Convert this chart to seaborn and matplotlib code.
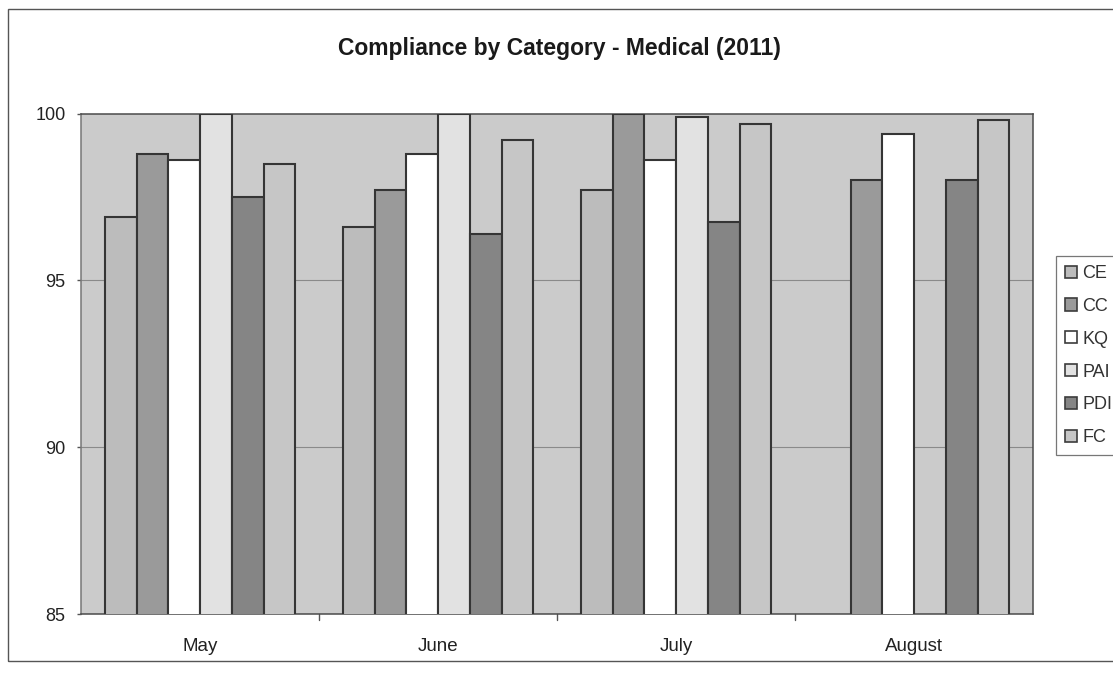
import numpy as np
import pandas as pd
import matplotlib
matplotlib.use("Agg")
import matplotlib.pyplot as plt
from matplotlib.patches import Rectangle, Patch
import seaborn as sns

months = ["May", "June", "July", "August"]
categories = ["CE", "CC", "KQ", "PAI", "PDI", "FC"]
ce = [96.9, 96.6, 97.7, np.nan]
cc = [98.8, 97.7, 100.0, 98.0]
kq = [98.6, 98.8, 98.6, 99.4]
pai = [100.0, 100.0, 99.9, np.nan]
pdi = [97.5, 96.4, 96.75, 98.0]
fc = [98.5, 99.2, 99.7, 99.8]
y_ticks = [85, 90, 95, 100]

colors = ["#bcbcbc", "#9a9a9a", "#ffffff", "#e2e2e2", "#858585", "#c6c6c6"]

series = {"CE": ce, "CC": cc, "KQ": kq, "PAI": pai, "PDI": pdi, "FC": fc}
rows = []
for cat in categories:
    for m, v in zip(months, series[cat]):
        rows.append({"Month": m, "Category": cat, "Value": v})
df = pd.DataFrame(rows)

sns.set_theme(style="white")
plt.rcParams["font.family"] = ["Liberation Sans", "DejaVu Sans"]

fig = plt.figure(figsize=(11.13, 6.77), dpi=100)
ax = fig.add_axes([0.0728, 0.093, 0.8554, 0.7393])
ax.set_facecolor("#cbcbcb")

sns.barplot(data=df, x="Month", y="Value", hue="Category", order=months,
            hue_order=categories, palette=colors, width=0.8,
            edgecolor="#353535", linewidth=1.5, ax=ax, legend=False,
            errorbar=None, zorder=3)

ax.set_ylim(85, 100)
ax.set_xlim(-0.5, len(months) - 0.5)
ax.set_yticks(y_ticks)
ax.set_yticklabels([str(t) for t in y_ticks], fontsize=13, color="#222222")
ax.set_xticks(range(len(months)))
ax.set_xticklabels(months, fontsize=13.5, color="#222222")
ax.set_xlabel("")
ax.set_ylabel("")
ax.tick_params(axis="x", length=0, pad=17)
ax.tick_params(axis="y", length=3, width=1, color="#555555", pad=8, left=True)

# category separators along the x axis
for b in np.arange(0.5, len(months) - 0.5, 1.0):
    ax.plot([b, b], [0, -0.012], transform=ax.get_xaxis_transform(),
            color="#555555", lw=1, clip_on=False)

for yv in [90, 95]:
    ax.axhline(yv, color="#8a8a8a", lw=0.8, zorder=1)

for side, sp in ax.spines.items():
    sp.set_visible(True)
    sp.set_color("#4a4a4a")
    sp.set_linewidth(1.1)
ax.spines["left"].set_color("#777777")

fig.text(0.503, 0.928, "Compliance by Category - Medical (2011)",
         ha="center", va="center", fontsize=16.5, fontweight="bold",
         color="#1a1a1a")

handles = [Patch(facecolor=c, edgecolor="#3c3c3c", linewidth=1.2, label=l)
           for c, l in zip(colors, categories)]
leg = fig.legend(handles=handles, loc="upper left",
                 bbox_to_anchor=(0.949, 0.622), frameon=True, fancybox=False,
                 fontsize=13, handlelength=0.65, handleheight=0.65,
                 handletextpad=0.3, labelspacing=0.88, borderpad=0.5,
                 borderaxespad=0)
leg.get_frame().set_edgecolor("#555555")
leg.get_frame().set_linewidth(0.9)
for t in leg.get_texts():
    t.set_color("#333333")

# outer chart border
fig.patches.append(Rectangle((0.0072, 0.024), 1.05, 0.962,
                             transform=fig.transFigure, fill=False,
                             edgecolor="#555555", linewidth=1.0))

fig.savefig("out.png", dpi=100, facecolor="white")
